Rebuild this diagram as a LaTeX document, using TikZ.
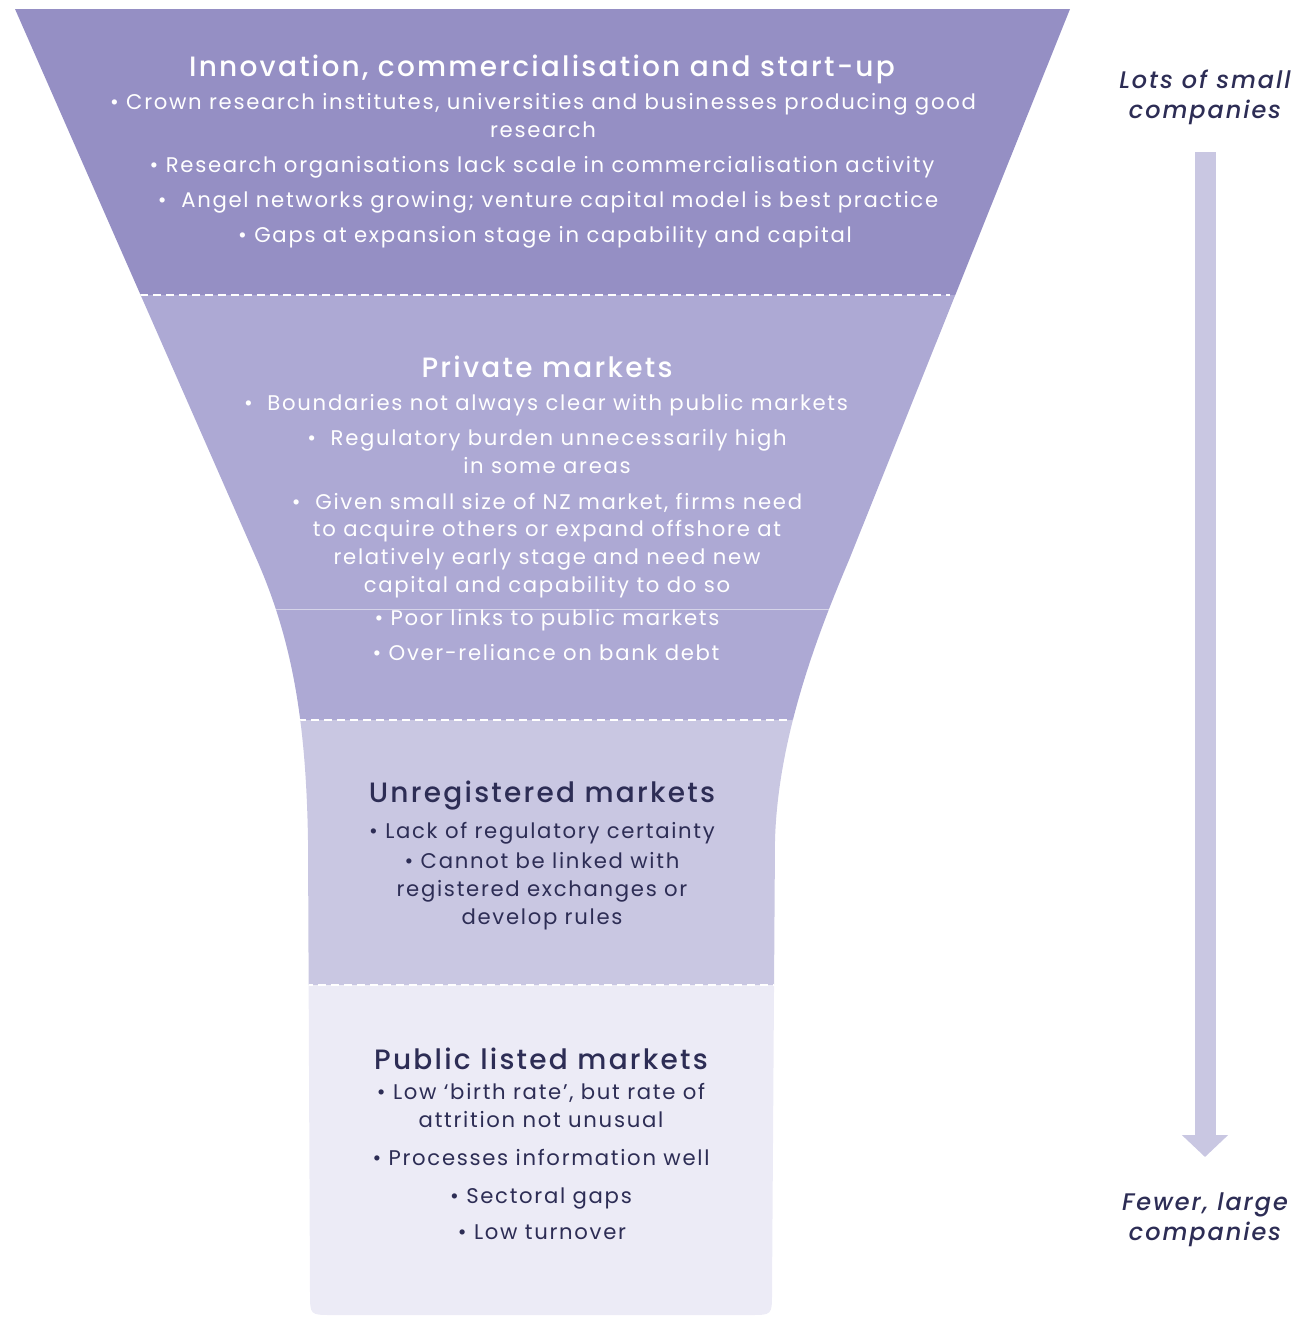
\documentclass[tikz,border=0pt]{standalone}
\usepackage{fontspec}
\setmainfont{Poppins}[LetterSpace=8]
\newfontfamily\headfont{Poppins}[UprightFont=* Medium, ItalicFont=* Medium Italic, LetterSpace=8]
\usetikzlibrary{arrows.meta}
\definecolor{bandA}{HTML}{958FC4}
\definecolor{bandB}{HTML}{ADA9D4}
\definecolor{bandC}{HTML}{C9C7E2}
\definecolor{bandD}{HTML}{ECEBF6}
\definecolor{ink}{HTML}{2D2D55}
\tikzstyle{whead}=[text=white, font=\headfont\fontsize{14}{17}\selectfont, anchor=base, inner sep=0pt]
\tikzstyle{witem}=[text=white, font=\fontsize{10.6}{13.8}\selectfont, align=center, anchor=base, inner sep=0pt]
\tikzstyle{dhead}=[whead, text=ink]
\tikzstyle{ditem}=[witem, text=ink]
\tikzstyle{side}=[text=ink, font=\headfont\itshape\fontsize{12}{15}\selectfont, align=center, anchor=base, inner sep=0pt]
\tikzstyle{seam}=[white, line width=0.7pt, dash pattern=on 4pt off 2.5pt]
\tikzstyle{flow}=[draw=bandC, line width=10.5pt, -{Triangle[width=22.5pt,length=11pt]}]
\newcommand{\wtext}{\node[witem]}
\newcommand{\dtext}{\node[ditem]}

\begin{document}
\begin{tikzpicture}[x=0.5pt, y=-0.5pt]
    \useasboundingbox (0,0) rectangle (1308,1317);

    % funnel bands
    \begin{scope}
        \clip (15,9) -- (1070,9) -- (849,560) .. controls (815,640) and (778,740) .. (775,840)
            -- (772,1293) .. controls (772,1315) .. (750,1315) -- (332,1315)
            .. controls (310,1315) .. (310,1293) -- (308,840)
            .. controls (306,720) and (292,640) .. (257,560) -- cycle;
        \fill[bandA] (0,0) rectangle (1308,295);
        \fill[bandB] (0,295) rectangle (1308,720);
        \fill[bandC] (0,720) rectangle (1308,985);
        \fill[bandD] (0,985) rectangle (1308,1317);
        \draw[seam] (140,295) -- (950,295);
        \draw[seam] (298,720) -- (792,720);
        \draw[seam] (305,985) -- (780,985);
        \draw[white, opacity=0.5, line width=0.3pt] (200,609) -- (900,609);
    \end{scope}

    % innovation
    \node[whead] (innov) at (542,76) {Innovation, commercialisation and start-up};
    \wtext (crown) at (543,137) {• Crown research institutes, universities and businesses producing good\\research};
    \wtext (scale) at (542,172) {• Research organisations lack scale in commercialisation activity};
    \wtext (angel) at (548,207) {•~~Angel networks growing; venture capital model is best practice};
    \wtext (gaps) at (545,242) {• Gaps at expansion stage in capability and capital};

    % private
    \node[whead] (priv) at (547,377) {Private markets};
    \wtext (bound) at (546,410) {•~~Boundaries not always clear with public markets};
    \wtext (regb) at (547,473) {•~~Regulatory burden unnecessarily high\\in some areas};
    \wtext (nzsize) at (547,592) {•~~Given small size of NZ market, firms need\\to acquire others or expand offshore at\\relatively early stage and need new\\capital and capability to do so};
    \wtext (links) at (547,625) {• Poor links to public markets};
    \wtext (debt) at (546,660) {• Over-reliance on bank debt};

    % unregistered
    \node[dhead] (unreg) at (542,802) {Unregistered markets};
    \dtext (certain) at (542,838) {• Lack of regulatory certainty};
    \dtext (linked) at (542,924) {• Cannot be linked with\\registered exchanges or\\develop rules};

    % public
    \node[dhead] (publ) at (541,1069) {Public listed markets};
    \dtext (birth) at (541,1127) {• Low ‘birth rate’, but rate of\\attrition not unusual};
    \dtext (proc) at (541,1165) {• Processes information well};
    \dtext (sect) at (541,1203) {• Sectoral gaps};
    \dtext (turn) at (542,1239) {• Low turnover};

    % size arrow
    \node[side] (lots) at (1205,118) {Lots of small\\companies};
    \node[side] (fewer) at (1205,1240) {Fewer, large\\companies};
    \coordinate (ftop) at (1205,152);
    \coordinate (fbot) at (1205,1157);
    \draw[flow] (ftop) -- (fbot);
\end{tikzpicture}
\end{document}
